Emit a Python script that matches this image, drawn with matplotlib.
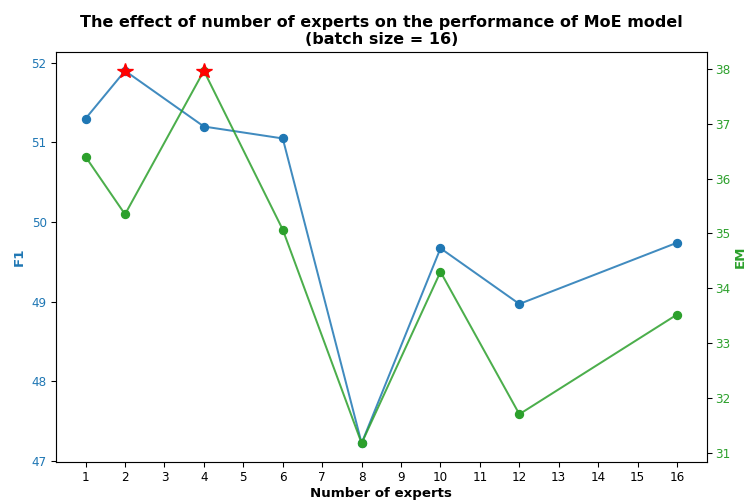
import matplotlib.pyplot as plt
import numpy as np

experts = [1, 2, 4, 6, 8, 10, 12, 16]
f1 = [51.30, 51.90, 51.20, 51.05, 47.22, 49.67, 48.97, 49.74]
em = [36.40, 35.35, 37.97, 35.07, 31.17, 34.30, 31.70, 33.52]

c1 = 'tab:blue'
c2 = 'tab:green'

fig, ax1 = plt.subplots(figsize=(747 / 96, 502 / 96), dpi=96)
fig.subplots_adjust(left=0.075, right=0.946, top=0.896, bottom=0.080)

ax1.plot(experts, f1, '-', color=c1, alpha=0.85)
ax1.plot(experts, f1, 'o', color=c1)
i1 = int(np.argmax(f1))
ax1.plot(experts[i1], f1[i1], '*', color='red', markersize=12)
ax1.set_ylabel('F1', color=c1, fontweight='bold')
ax1.tick_params(axis='y', labelcolor=c1, labelsize=9)
ax1.tick_params(axis='x', labelsize=9)
ax1.set_xlabel('Number of experts', fontweight='bold', labelpad=2)
ax1.set_xticks(range(1, 17))

ax2 = ax1.twinx()
ax2.plot(experts, em, '-', color=c2, alpha=0.85)
ax2.plot(experts, em, 'o', color=c2)
i2 = int(np.argmax(em))
ax2.plot(experts[i2], em[i2], '*', color='red', markersize=12)
ax2.set_ylabel('EM', color=c2, fontweight='bold', labelpad=2)
ax2.tick_params(axis='y', labelcolor=c2, labelsize=9, pad=3)

plt.title('The effect of number of experts on the performance of MoE model\n(batch size = 16)',
          fontweight='bold')
plt.savefig('out.png', dpi=96)
